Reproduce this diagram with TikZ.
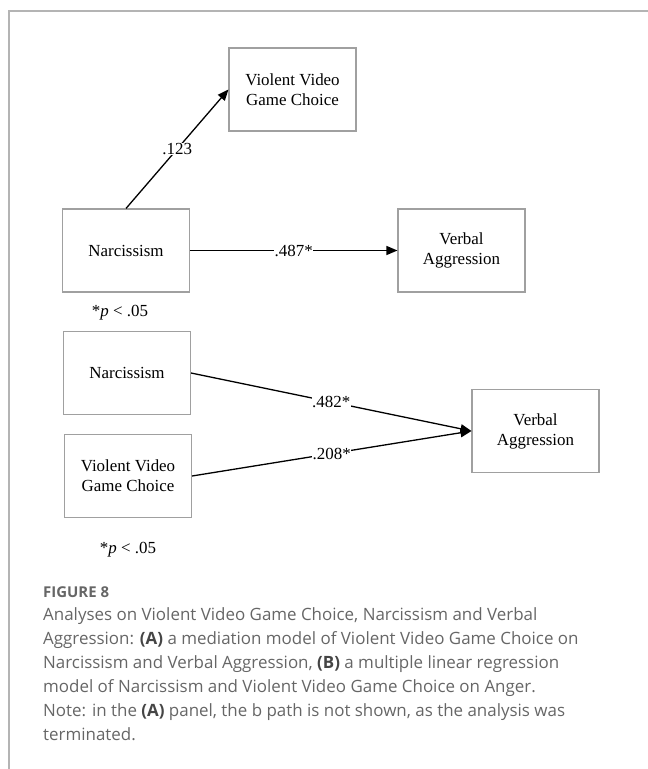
\documentclass[tikz,border=0pt]{standalone}
\usepackage{fontspec}
\setmainfont{Liberation Serif}
\newfontfamily\capfont{Open Sans}
\usetikzlibrary{arrows.meta}
\definecolor{boxgray}{HTML}{A0A0A0}
\definecolor{framegray}{HTML}{B4B4B4}
\definecolor{capgray}{HTML}{666666}
\definecolor{capdark}{HTML}{454545}
\begin{document}
\begin{tikzpicture}[x=1bp,y=-1bp,
  box/.style={draw=boxgray, line width=1.1bp, minimum width=127bp, minimum height=83bp, inner sep=0pt, align=center, font=\fontsize{17}{20}\selectfont},
  conn/.style={line width=1.3bp, -{Triangle[length=11bp,width=9bp]}},
  coef/.style={fill=white, inner sep=0.5bp, font=\fontsize{17}{20}\selectfont},
  note/.style={inner sep=0pt, font=\fontsize{17}{20}\selectfont},
  capline/.style={anchor=base west, inner sep=0pt, text=capgray, font=\capfont\fontsize{17}{24}\selectfont},
  caphead/.style={anchor=base west, inner sep=0pt, text=capgray, font=\capfont\bfseries\fontsize{15}{18}\selectfont},
]
\useasboundingbox (0,0) rectangle (648,769);
\draw[framegray, line width=1.5bp] (9,769) -- (9,11) -- (648,11);

% Panel A
\node[box] (vvgcA) at (292.5,89.5) {Violent Video\\Game Choice};
\node[box] (narA) at (126,250.5) {Narcissism};
\node[box] (vaA) at (461.5,250.5) {Verbal\\Aggression};
\draw[conn] (narA.north) -- node[coef] {.123} (vvgcA.west);
\draw[conn] (narA.east) -- node[coef] {.487*} (vaA.west);
\node[note] (pA) at (120,313) {*\textit{p} < .05};

% Panel B
\node[box] (narB) at (127,373) {Narcissism};
\node[box] (vvgcB) at (128,476) {Violent Video\\Game Choice};
\node[box] (vaB) at (535.5,431) {Verbal\\Aggression};
\draw[conn] (narB.east) -- node[coef] {.482*} (vaB.west);
\draw[conn] (vvgcB.east) -- node[coef] {.208*} (vaB.west);
\node[note] (pB) at (128,550) {*\textit{p} < .05};

% Caption
\node[caphead] (fig) at (43,597) {FIGURE 8};
\node[capline] (c1) at (43,620) {Analyses on Violent Video Game Choice, Narcissism and Verbal};
\node[capline] (c2) at (43,644) {Aggression: {\color{capdark}\bfseries(A)} a mediation model of Violent Video Game Choice on};
\node[capline] (c3) at (43,668) {Narcissism and Verbal Aggression, {\color{capdark}\bfseries(B)} a multiple linear regression};
\node[capline] (c4) at (43,692) {model of Narcissism and Violent Video Game Choice on Anger.};
\node[capline] (c5) at (43,716) {Note: in the {\color{capdark}\bfseries(A)} panel, the b path is not shown, as the analysis was};
\node[capline] (c6) at (43,740) {terminated.};
\end{tikzpicture}
\end{document}
